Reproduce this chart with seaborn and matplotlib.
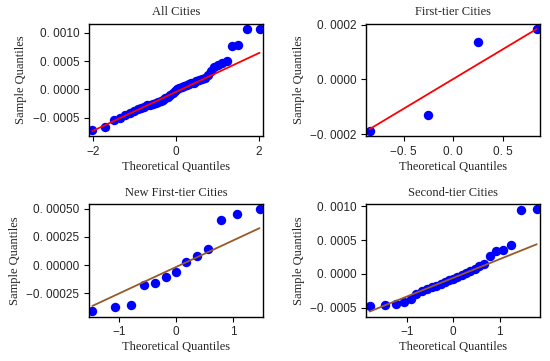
import numpy as np
import matplotlib
matplotlib.use('Agg')
import matplotlib.pyplot as plt
import seaborn as sns
from matplotlib.ticker import ScalarFormatter, MultipleLocator

sns.set_style('ticks')
plt.rcParams['font.family'] = ['Liberation Sans', 'DejaVu Sans']

# theoretical (normal) quantiles and sorted sample quantiles for each group
all_x = [-2.010, -1.701, -1.501, -1.348, -1.221, -1.111, -1.013, -0.924, -0.842, -0.765, -0.692,
         -0.623, -0.557, -0.492, -0.431, -0.371, -0.311, -0.253, -0.196, -0.140, -0.084, -0.028,
         0.028, 0.084, 0.140, 0.196, 0.253, 0.311, 0.371, 0.431, 0.492, 0.557, 0.623,
         0.692, 0.765, 0.842, 0.924, 1.013, 1.111, 1.221, 1.348, 1.501, 1.701, 2.010]
all_y = [-7.2e-4, -6.6e-4, -5.5e-4, -5.0e-4, -4.5e-4, -4.1e-4, -3.8e-4, -3.55e-4, -3.35e-4, -3.1e-4, -2.85e-4,
         -2.75e-4, -2.6e-4, -2.45e-4, -2.25e-4, -2.05e-4, -1.85e-4, -1.6e-4, -1.3e-4, -1.0e-4, -0.65e-4, -0.3e-4,
         0.0, 0.25e-4, 0.45e-4, 0.65e-4, 0.8e-4, 0.95e-4, 1.05e-4, 1.2e-4, 1.4e-4, 1.6e-4, 1.85e-4,
         1.95e-4, 2.5e-4, 3.2e-4, 3.9e-4, 4.4e-4, 4.7e-4, 5.0e-4, 7.7e-4, 7.8e-4, 10.6e-4, 10.7e-4]

first_x = [-0.842, -0.253, 0.253, 0.842]
first_y = [-1.89e-4, -1.31e-4, 1.355e-4, 1.84e-4]

newfirst_x = [-1.465, -1.068, -0.792, -0.566, -0.366, -0.180, 0.0, 0.180, 0.366, 0.566, 0.792, 1.068, 1.465]
newfirst_y = [-4.14e-4, -3.75e-4, -3.54e-4, -1.77e-4, -1.57e-4, -1.09e-4, -0.59e-4, 0.29e-4, 0.83e-4,
              1.42e-4, 3.99e-4, 4.58e-4, 4.96e-4]

second_x = [-1.803, -1.466, -1.242, -1.068, -0.921, -0.792, -0.674, -0.566, -0.464, -0.366, -0.272,
            -0.180, -0.090, 0.0, 0.090, 0.180, 0.272, 0.366, 0.464, 0.566, 0.674, 0.792,
            0.921, 1.068, 1.242, 1.466, 1.803]
second_y = [-4.7e-4, -4.6e-4, -4.45e-4, -4.1e-4, -3.7e-4, -3.0e-4, -2.6e-4, -2.3e-4, -2.0e-4, -1.75e-4, -1.5e-4,
            -1.2e-4, -0.95e-4, -0.7e-4, -0.45e-4, -0.2e-4, 0.1e-4, 0.4e-4, 0.7e-4, 1.1e-4, 1.45e-4, 2.65e-4,
            3.43e-4, 3.53e-4, 4.26e-4, 9.45e-4, 9.55e-4]

titles = ['All Cities', 'First-tier Cities', 'New First-tier Cities', 'Second-tier Cities']
line_colors = ['red', 'red', '#965a28', '#965a28']
x_steps = [2, 0.5, 1, 1]
y_steps = [5e-4, 2e-4, 2.5e-4, 5e-4]


class SpacedFormatter(ScalarFormatter):
    # mimic the wide full stop of the original font
    def __call__(self, x, pos=None):
        return super().__call__(x, pos).replace('.', '. ')


def qq_panel(ax, tq, sq, title, lc, xs, ys):
    tq = np.array(tq)
    sq = np.array(sq)
    # reference line through the quartiles
    q25, q75 = np.percentile(sq, [25, 75])
    m = (q75 - q25) / (2 * 0.6745)
    b = q25 + m * 0.6745
    sns.scatterplot(x=tq, y=sq, ax=ax, color='#0000ff', s=46, linewidth=0, legend=False, zorder=2)
    sns.lineplot(x=tq, y=m * tq + b, ax=ax, color=lc, linewidth=1.3, zorder=3)
    ax.margins(x=0.02, y=0.05)
    ax.set_title(title, family='Liberation Serif', fontsize=9, pad=6)
    ax.set_xlabel('Theoretical Quantiles', family='Liberation Serif', fontsize=9, labelpad=2)
    ax.set_ylabel('Sample Quantiles', family='Liberation Serif', fontsize=9, labelpad=4)
    ax.xaxis.set_major_locator(MultipleLocator(xs))
    ax.yaxis.set_major_locator(MultipleLocator(ys))
    ax.yaxis.set_major_formatter(SpacedFormatter())
    ax.xaxis.set_major_formatter(SpacedFormatter())
    ax.tick_params(labelsize=8.5, length=3.5, width=0.8, pad=3.5, color='black')
    for s in ax.spines.values():
        s.set_visible(True)
        s.set_color('black')
        s.set_linewidth(1.0)


fig, axes = plt.subplots(2, 2, figsize=(5.5, 3.61), dpi=100)
fig.subplots_adjust(left=0.162, right=0.982, top=0.934, bottom=0.123, wspace=0.595, hspace=0.607)

data = [(all_x, all_y), (first_x, first_y), (newfirst_x, newfirst_y), (second_x, second_y)]
for i, ax in enumerate(axes.flat):
    qq_panel(ax, data[i][0], data[i][1], titles[i], line_colors[i], x_steps[i], y_steps[i])

fig.savefig('out.png', dpi=100)
